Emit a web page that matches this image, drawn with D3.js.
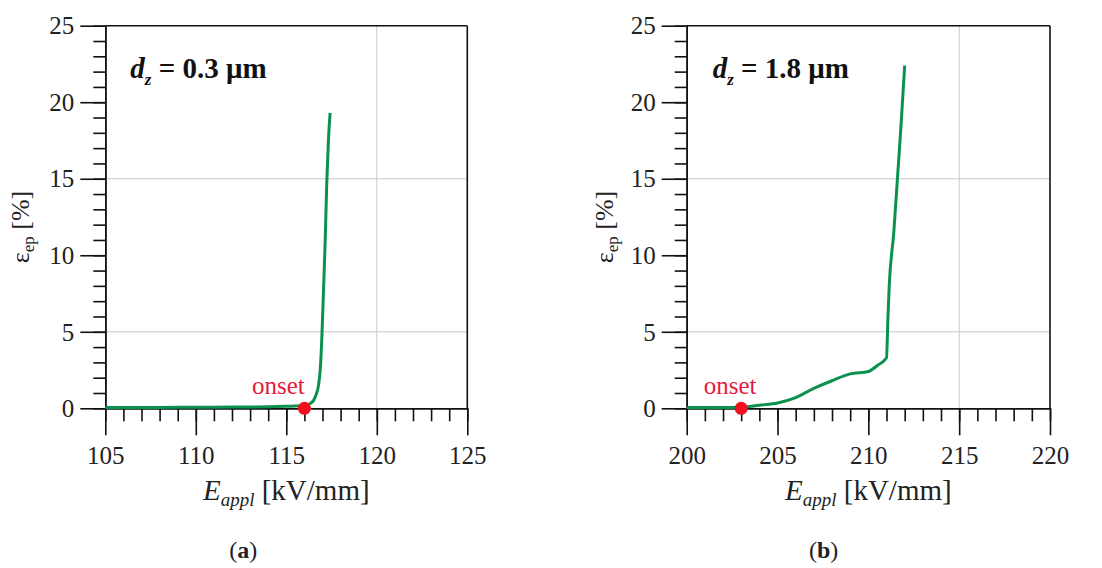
<!DOCTYPE html>
<html>
<head>
<meta charset="utf-8">
<script src="https://cdn.jsdelivr.net/npm/d3@7"></script>
<style>
  body { margin: 0; background: #fff; }
</style>
</head>
<body>
<div id="chart"></div>
<script>
// Panel (a): d_z = 0.3 um
const fieldA = [105, 108, 110, 112, 114, 115, 116, 116.3, 116.5, 116.65, 116.78, 116.88, 116.96, 117.05, 117.15, 117.23, 117.32, 117.42];
const strainA = [0.05, 0.06, 0.07, 0.08, 0.1, 0.13, 0.18, 0.3, 0.5, 0.9, 1.5, 2.6, 4.5, 7.5, 11, 14.5, 17.3, 19.3];
const onsetA = 116;

// Panel (b): d_z = 1.8 um
const fieldB = [200, 201, 202, 203, 204, 205, 206, 207, 208, 209, 210, 210.5, 211, 211.08, 211.15, 211.4, 211.6, 211.8, 212];
const strainB = [0.05, 0.05, 0.05, 0.06, 0.2, 0.35, 0.7, 1.3, 1.8, 2.25, 2.4, 2.8, 3.3, 6, 8, 11.5, 15, 18.5, 22.4];
const onsetB = 203;

const xDomainA = [105, 125];
const xDomainB = [200, 220];
const yDomain = [0, 25];
const majorStep = 5;
const gridY = [5, 15];
const gridXA = [120];
const gridXB = [215];

const FONT = "Liberation Serif";

const svg = d3.select("#chart")
    .append("svg")
    .attr("width", 1102)
    .attr("height", 568)
    .attr("font-family", FONT);

function drawPanel(opt) {
    const w = opt.width, h = 382.6;
    const g = svg.append("g")
        .attr("transform", `translate(${opt.left}, 25.7)`);

    const x = d3.scaleLinear().domain(opt.xDomain).range([0, w]);
    const y = d3.scaleLinear().domain(yDomain).range([h, 0]);

    // grid
    g.selectAll(".gy")
        .data(gridY)
        .enter().append("line")
        .attr("x1", 0).attr("x2", w)
        .attr("y1", d => y(d)).attr("y2", d => y(d))
        .attr("stroke", "#c8c8c8").attr("stroke-width", 1);
    g.selectAll(".gx")
        .data(opt.gridX)
        .enter().append("line")
        .attr("x1", d => x(d)).attr("x2", d => x(d))
        .attr("y1", 0).attr("y2", h)
        .attr("stroke", "#c8c8c8").attr("stroke-width", 1);

    // frame top / right
    g.append("line").attr("x1", 0).attr("x2", w).attr("y1", 0).attr("y2", 0)
        .attr("stroke", "#111").attr("stroke-width", 1.6);
    g.append("line").attr("x1", w).attr("x2", w).attr("y1", 0).attr("y2", h)
        .attr("stroke", "#111").attr("stroke-width", 1.6);

    // y axis minor + major
    const yMinor = g.append("g")
        .call(d3.axisLeft(y).tickValues(d3.range(0, 26, 1)).tickSize(12).tickSizeOuter(0).tickFormat(""));
    const yMajor = g.append("g")
        .call(d3.axisLeft(y).tickValues(d3.range(0, 26, majorStep)).tickSize(25).tickSizeOuter(0).tickPadding(6));

    // x axis minor + major
    const xr = d3.range(opt.xDomain[0], opt.xDomain[1] + 1, 1);
    const xMinor = g.append("g")
        .attr("transform", `translate(0, ${h})`)
        .call(d3.axisBottom(x).tickValues(xr).tickSize(13).tickSizeOuter(0).tickFormat(""));
    const xMajor = g.append("g")
        .attr("transform", `translate(0, ${h})`)
        .call(d3.axisBottom(x).tickValues(d3.range(opt.xDomain[0], opt.xDomain[1] + 1, majorStep)).tickSize(27).tickSizeOuter(0).tickPadding(11));

    [yMinor, yMajor, xMinor, xMajor].forEach(a => {
        a.attr("font-family", FONT).attr("font-size", 25);
        a.selectAll("path, line").attr("stroke", "#111").attr("stroke-width", 1.6);
        a.selectAll("text").attr("fill", "#222");
    });
    yMajor.selectAll("text").attr("dy", "0.33em");

    // curve
    const pts = opt.xs.map((d, i) => [d, opt.ys[i]]);
    g.append("path")
        .datum(pts)
        .attr("d", d3.line().x(d => x(d[0])).y(d => y(d[1])).curve(d3.curveMonotoneX))
        .attr("fill", "none")
        .attr("stroke", "#0a9150")
        .attr("stroke-width", 3);

    // onset
    g.append("circle")
        .attr("cx", x(opt.onset)).attr("cy", y(0)).attr("r", 6.5)
        .attr("fill", "#f0101e");
    g.append("text")
        .attr("x", x(opt.onset) + opt.onsetDx)
        .attr("y", y(0) - 14)
        .attr("text-anchor", "middle")
        .attr("font-family", FONT)
        .attr("font-size", 25)
        .attr("fill", "#e8183c")
        .text("onset");

    // d_z annotation
    const t = g.append("text")
        .attr("x", opt.annX).attr("y", 52.3)
        .attr("font-family", FONT)
        .attr("font-size", 29).attr("font-weight", "bold").attr("fill", "#111");
    t.append("tspan").attr("font-style", "italic").text("d");
    t.append("tspan").attr("font-style", "italic").attr("font-size", 17).attr("dy", 7).text("z");
    t.append("tspan").attr("dy", -7).text(" = " + opt.dz + " \u03bcm");

    // x label
    const xl = g.append("text")
        .attr("x", w / 2).attr("y", 474.3)
        .attr("text-anchor", "middle")
        .attr("font-family", FONT)
        .attr("font-size", 29).attr("fill", "#222");
    xl.append("tspan").attr("font-style", "italic").text("E");
    xl.append("tspan").attr("font-style", "italic").attr("font-size", 19).attr("dy", 6).text("appl");
    xl.append("tspan").attr("dy", -6).text(" [kV/mm]");

    // y label
    const yl = g.append("text")
        .attr("transform", `translate(${opt.yLabelX}, ${h / 2 + 10}) rotate(-90)`)
        .attr("text-anchor", "middle")
        .attr("font-family", FONT)
        .attr("font-size", 26).attr("fill", "#222");
    yl.append("tspan").text("\u03b5");
    yl.append("tspan").attr("font-size", 17).attr("dy", 5).text("ep");
    yl.append("tspan").attr("dy", -5).text(" [%]");

    // panel tag
    const pl = g.append("text")
        .attr("x", opt.tagX).attr("y", 532)
        .attr("text-anchor", "middle")
        .attr("font-family", FONT)
        .attr("font-size", 24).attr("fill", "#222");
    pl.append("tspan").text("(");
    pl.append("tspan").attr("font-weight", "bold").text(opt.tag);
    pl.append("tspan").text(")");
}

drawPanel({
    left: 105.3, width: 362, xDomain: xDomainA, gridX: gridXA,
    xs: fieldA, ys: strainA, onset: onsetA, onsetDx: -26,
    dz: "0.3", annX: 25, yLabelX: -76, tag: "a", tagX: 138
});
drawPanel({
    left: 686.7, width: 363.3, xDomain: xDomainB, gridX: gridXB,
    xs: fieldB, ys: strainB, onset: onsetB, onsetDx: -11,
    dz: "1.8", annX: 26, yLabelX: -74, tag: "b", tagX: 137
});
</script>
</body>
</html>
